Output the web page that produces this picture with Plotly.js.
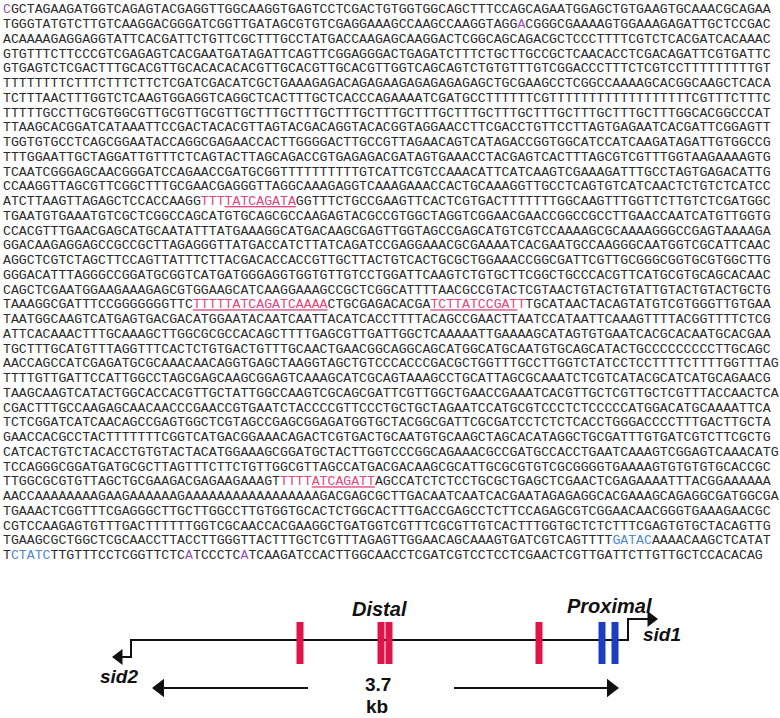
<!DOCTYPE html>
<html>
<head>
<meta charset="utf-8">
<script src="https://cdn.plot.ly/plotly-3.0.1.min.js"></script>
<style>
html,body{margin:0;padding:0;background:#fff;}
#chart{width:780px;height:718px;}
</style>
</head>
<body>
<div id="chart"></div>
<script>
// ---- sequence text (one string per printed line) ----
var seqLines = [
"CGCTAGAAGATGGTCAGAGTACGAGGTTGGCAAGGTGAGTCCTCGACTGTGGTGGCAGCTTTCCAGCAGAATGGAGCTGTGAAGTGCAAACGCAGAA",
"TGGGTATGTCTTGTCAAGGACGGGATCGGTTGATAGCGTGTCGAGGAAAGCCAAGCCAAGGTAGGACGGGCGAAAAGTGGAAAGAGATTGCTCCGAC",
"ACAAAAGAGGAGGTATTCACGATTCTGTTCGCTTTGCCTATGACCAAGAGCAAGGACTCGGCAGCAGACGCTCCCTTTTCGTCTCACGATCACAAAC",
"GTGTTTCTTCCCGTCGAGAGTCACGAATGATAGATTCAGTTCGGAGGGACTGAGATCTTTCTGCTTGCCGCTCAACACCTCGACAGATTCGTGATTC",
"GTGAGTCTCGACTTTGCACGTTGCACACACACGTTGCACGTTGCACGTTGGTCAGCAGTCTGTGTTTGTCGGACCCTTTCTCGTCCTTTTTTTTTGT",
"TTTTTTTTCTTTCTTTCTTCTCGATCGACATCGCTGAAAGAGACAGAGAAGAGAGAGAGAGCTGCGAAGCCTCGGCCAAAAGCACGGCAAGCTCACA",
"TCTTTAACTTTGGTCTCAAGTGGAGGTCAGGCTCACTTTGCTCACCCAGAAAATCGATGCCTTTTTTCGTTTTTTTTTTTTTTTTTTCGTTTCTTTC",
"TTTTTGCCTTGCGTGGCGTTGCGTTGCGTTGCTTTGCTTTGCTTTGCTTTGCTTTGCTTTGCTTTGCTTTGCTTTGCTTTGCTTTGGCACGGCCCAT",
"TTAAGCACGGATCATAAATTCCGACTACACGTTAGTACGACAGGTACACGGTAGGAACCTTCGACCTGTTCCTTAGTGAGAATCACGATTCGGAGTT",
"TGGTGTGCCTCAGCGGAATACCAGGCGAGAACCACTTGGGGACTTGCCGTTAGAACAGTCATAGACCGGTGGCATCCATCAAGATAGATTGTGGCCG",
"TTTGGAATTGCTAGGATTGTTTCTCAGTACTTAGCAGACCGTGAGAGACGATAGTGAAACCTACGAGTCACTTTAGCGTCGTTTGGTAAGAAAAGTG",
"TCAATCGGGAGCAACGGGATCCAGAACCGATGCGGTTTTTTTTTTGTCATTCGTCCAAACATTCATCAAGTCGAAAGATTTGCCTAGTGAGACATTG",
"CCAAGGTTAGCGTTCGGCTTTGCGAACGAGGGTTAGGCAAAGAGGTCAAAGAAACCACTGCAAAGGTTGCCTCAGTGTCATCAACTCTGTCTCATCC",
"ATCTTAAGTTAGAGCTCCACCAAGGTTTTATCAGATAGGTTTCTGCCGAAGTTCACTCGTGACTTTTTTTGGCAAGTTTGGTTCTTGTCTCGATGGC",
"TGAATGTGAAATGTCGCTCGGCCAGCATGTGCAGCGCCAAGAGTACGCCGTGGCTAGGTCGGAACGAACCGGCCGCCTTGAACCAATCATGTTGGTG",
"CCACGTTTGAACGAGCATGCAATATTTATGAAAGGCATGACAAGCGAGTTGGTAGCCGAGCATGTCGTCCAAAAGCGCAAAAGGGCCGAGTAAAAGA",
"GGACAAGAGGAGCCGCCGCTTAGAGGGTTATGACCATCTTATCAGATCCGAGGAAACGCGAAAATCACGAATGCCAAGGGCAATGGTCGCATTCAAC",
"AGGCTCGTCTAGCTTCCAGTTATTTCTTACGACACCACCGTTGCTTACTGTCACTGCGCTGGAAACCGGCGATTCGTTGCGGGCGGTGCGTGGCTTG",
"GGGACATTTAGGGCCGGATGCGGTCATGATGGGAGGTGGTGTTGTCCTGGATTCAAGTCTGTGCTTCGGCTGCCCACGTTCATGCGTGCAGCACAAC",
"CAGCTCGAATGGAAGAAAGAGCGTGGAAGCATCAAGGAAAGCCGCTCGGCATTTTAACGCCGTACTCGTAACTGTACTGTATTGTACTGTACTGCTG",
"TAAAGGCGATTTCCGGGGGGGTTCTTTTTATCAGATCAAAACTGCGAGACACGATCTTATCCGATTTGCATAACTACAGTATGTCGTGGGTTGTGAA",
"TAATGGCAAGTCATGAGTGACGACATGGAATACAATCAATTACATCACCTTTTACAGCCGAACTTAATCCATAATTCAAAGTTTTACGGTTTTCTCG",
"ATTCACAAACTTTGCAAAGCTTGGCGCGCCACAGCTTTTGAGCGTTGATTGGCTCAAAAATTGAAAAGCATAGTGTGAATCACGCACAATGCACGAA",
"TGCTTTGCATGTTTAGGTTTCACTCTGTGACTGTTTGCAACTGAACGGCAGGCAGCATGGCATGCAATGTGCAGCATACTGCCCCCCCCCTTGCAGC",
"AACCAGCCATCGAGATGCGCAAACAACAGGTGAGCTAAGGTAGCTGTCCCACCCGACGCTGGTTTGCCTTGGTCTATCCTCCTTTTCTTTTGGTTTAG",
"TTTTGTTGATTCCATTGGCCTAGCGAGCAAGCGGAGTCAAAGCATCGCAGTAAAGCCTGCATTAGCGCAAATCTCGTCATACGCATCATGCAGAACG",
"TAAGCAAGTCATACTGGCACCACGTTGCTATTGGCCAAGTCGCAGCGATTCGTTGGCTGAACCGAAATCACGTTGCTCGTTGCTCGTTTACCAACTCA",
"CGACTTTGCCAAGAGCAACAACCCGAACCGTGAATCTACCCCGTTCCCTGCTGCTAGAATCCATGCGTCCCTCTCCCCCATGGACATGCAAAATTCA",
"TCTCGGATCATCAACAGCCGAGTGGCTCGTAGCCGAGCGGAGATGGTGCTACGGCGATTCGCGATCCTCTCTCACCTGGGACCCCTTTGACTTGCTA",
"GAACCACGCCTACTTTTTTTCGGTCATGACGGAAACAGACTCGTGACTGCAATGTGCAAGCTAGCACATAGGCTGCGATTTGTGATCGTCTTCGCTG",
"CATCACTGTCTACACCTGTGTACTACATGGAAAGCGGATGCTACTTGGTCCCGGCAGAAACGCCGATGCCACCTGAATCAAAGTCGGAGTCAAACATG",
"TCCAGGGCGGATGATGCGCTTAGTTTCTTCTGTTGGCGTTAGCCATGACGACAAGCGCATTGCGCGTGTCGCGGGGTGAAAAGTGTGTGTGCACCGC",
"TTGGCGCGTGTTAGCTGCGAAGACGAGAAGAAAGTTTTTATCAGATTAGCCATCTCTCCTGCGCTGAGCTCGAACTCGAGAAAATTTACGGAAAAAA",
"AACCAAAAAAAAGAAGAAAAAAGAAAAAAAAAAAAAAAAAGACGAGCGCTTGACAATCAATCACGAATAGAGAGGCACGAAAGCAGAGGCGATGGCGA",
"TGAAACTCGGTTTCGAGGGCTTGCTTGGCCTTGTGGTGCACTCTGGCACTTTGACCGAGCCTCTTCCAGAGCGTCGGAACAACGGGTGAAAGAACGC",
"CGTCCAAGAGTGTTTGACTTTTTTGGTCGCAACCACGAAGGCTGATGGTCGTTTCGCGTTGTCACTTTGGTGCTCTCTTTCGAGTGTGCTACAGTTG",
"TGAAGCGCTGGCTCGCAACCTTACCTTGGGTTACTTTGCTCGTTTAGAGTTGGAACAGCAAAGTGATCGTCAGTTTTGATACAAAACAAGCTCATAT",
"TCTATCTTGTTTCCTCGGTTCTCATCCCTCATCAAGATCCACTTGGCAACCTCGATCGTCCTCCTCGAACTCGTTGATTCTTGTTGCTCCACACAG"
];

// ---- highlighted stretches (line number 1-based, char start/end 1-based) ----
var hlLine  = [1, 2, 14, 21, 21, 33, 37, 38, 38, 38];
var hlStart = [1, 66, 26, 25, 55, 36, 78, 2, 24, 31];
var hlEnd   = [1, 66, 37, 41, 66, 47, 82, 6, 24, 31];
var hlKind  = ["start", "start", "gata", "gata", "gata", "gata", "gatc", "gatc", "start", "start"];
var ulLine  = [14, 21, 21, 33];
var ulStart = [29, 25, 55, 40];
var ulEnd   = [37, 41, 65, 47];

// ---- schematic: binding sites along the intergenic region ----
var siteX    = [300, 381, 389, 539, 602, 615];
var siteKind = ["distal", "distal", "distal", "distal", "proximal", "proximal"];

var kindColor = {start: "#9b4fb3", gata: "#e0457b", gatc: "#4f86d6",
                 distal: "#e2124a", proximal: "#1c3cc2"};

// ---------- build rich text lines ----------
function buildLine(li) {
  var s = seqLines[li];
  var col = new Array(s.length).fill(null);
  var ul = new Array(s.length).fill(false);
  for (var k = 0; k < hlLine.length; k++) {
    if (hlLine[k] === li + 1) {
      for (var p = hlStart[k]; p <= hlEnd[k]; p++) col[p - 1] = kindColor[hlKind[k]];
    }
  }
  for (var k2 = 0; k2 < ulLine.length; k2++) {
    if (ulLine[k2] === li + 1) {
      for (var q = ulStart[k2]; q <= ulEnd[k2]; q++) ul[q - 1] = true;
    }
  }
  var out = "", i = 0;
  while (i < s.length) {
    var c = col[i], u = ul[i], j = i;
    while (j < s.length && col[j] === c && ul[j] === u) j++;
    var chunk = s.slice(i, j);
    if (u) chunk = "<u>" + chunk + "</u>";
    if (c) chunk = '<span style="color:' + c + '">' + chunk + "</span>";
    out += chunk;
    i = j;
  }
  return out;
}

var lineTop = 10, lineStep = 14.75, textLeft = 3;
var tx = [], ty = [], tt = [];
for (var li = 0; li < seqLines.length; li++) {
  tx.push(textLeft);
  ty.push(lineTop + li * lineStep);
  tt.push(buildLine(li));
}

var traces = [];
traces.push({
  type: "scatter", mode: "text", x: tx, y: ty, text: tt,
  textposition: "middle right", hoverinfo: "skip",
  textfont: {family: "Liberation Mono, Courier New, monospace", size: 13.2, color: "#2b2b2b"},
  showlegend: false
});

// schematic geometry
var lineY = 640, lineX0 = 131, lineX1 = 628;
var black = "#111111";
// main line with the two gene brackets
traces.push({
  type: "scatter", mode: "lines",
  x: [122, lineX0, lineX0, lineX1, lineX1, 648],
  y: [657, 657, lineY, lineY, 619, 619],
  line: {color: black, width: 2}, hoverinfo: "skip", showlegend: false
});
// bracket arrowheads
traces.push({
  type: "scatter", mode: "markers", x: [119, 651], y: [657, 619],
  marker: {symbol: ["triangle-left", "triangle-right"], size: 14, color: black},
  hoverinfo: "skip", showlegend: false
});
// binding-site bars
traces.push({
  type: "scatter", mode: "markers",
  x: siteX, y: siteX.map(function () { return lineY + 3; }),
  marker: {symbol: "line-ns", size: 30,
           line: {width: 7, color: siteKind.map(function (k) { return kindColor[k]; })}},
  hoverinfo: "skip", showlegend: false
});
// 3.7 kb span arrows
traces.push({
  type: "scatter", mode: "lines",
  x: [308, 162, null, 454, 610], y: [688, 688, null, 688, 688],
  line: {color: black, width: 2}, hoverinfo: "skip", showlegend: false
});
traces.push({
  type: "scatter", mode: "markers", x: [160, 611], y: [688, 688],
  marker: {symbol: ["triangle-left", "triangle-right"], size: 16, color: black},
  hoverinfo: "skip", showlegend: false
});

var labFont = {family: "Liberation Sans, Arial, sans-serif", size: 20, color: black,
               weight: "bold", style: "italic"};
function ann(text, x, y, font) {
  return {text: text, x: x, y: y, xref: "x", yref: "y", showarrow: false,
          xanchor: "center", yanchor: "middle", font: font};
}
var annotations = [
  ann("Distal", 379, 609, labFont),
  ann("Proximal", 609, 606, labFont),
  ann("sid1", 662, 634, Object.assign({}, labFont, {size: 19})),
  ann("sid2", 119, 676, Object.assign({}, labFont, {size: 19})),
  ann("3.7", 378, 684, {family: "Liberation Sans, Arial, sans-serif", size: 19, color: black, weight: "bold"}),
  ann("kb", 377, 706, {family: "Liberation Sans, Arial, sans-serif", size: 19, color: black, weight: "bold"})
];

var layout = {
  width: 780, height: 718,
  margin: {l: 0, r: 0, t: 0, b: 0},
  paper_bgcolor: "#ffffff", plot_bgcolor: "#ffffff",
  xaxis: {range: [0, 780], visible: false, fixedrange: true},
  yaxis: {range: [718, 0], visible: false, fixedrange: true},
  annotations: annotations,
  showlegend: false
};

Plotly.newPlot("chart", traces, layout, {staticPlot: true, displayModeBar: false});
</script>
</body>
</html>
